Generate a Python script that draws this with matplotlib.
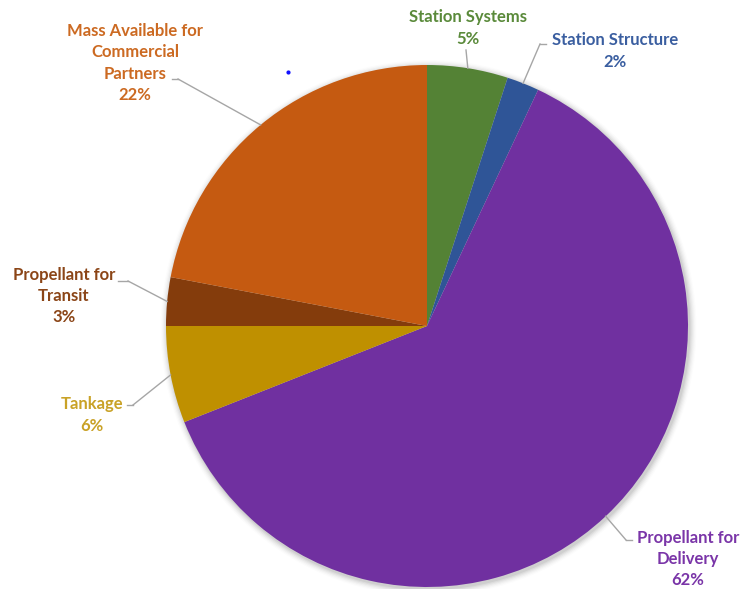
import matplotlib.pyplot as plt
import numpy as np

plt.rcParams['font.family'] = ['Lato', 'DejaVu Sans']

# share of total mass, clockwise from 12 o'clock
labels = ["Station Systems", "Station Structure", "Propellant for\nDelivery",
          "Tankage", "Propellant for\nTransit", "Mass Available for\nCommercial\nPartners"]
values = [5, 2, 62, 6, 3, 22]

colors = ["#548235", "#2F5597", "#7030A0", "#BF9000", "#843C0C", "#C55A11"]
text_colors = ["#5A8A3A", "#3A5EA0", "#7A35A8", "#C9A227", "#8B4517", "#CC6A22"]

W, H = 742, 589
cx, cy, r = 427, H - 326, 261

# label text centre and leader-line elbow (pixel coords, y from top)
label_pos = [(468, 28), (615, 51), (688, 559), (92, 415), (64, 296), (135, 63)]
elbows = [(466, 50), (540, 44), (626, 540), (133, 405), (128, 281), (178, 79)]
# short horizontal stubs next to the text
stubs = [None, (546, 540), (632, 626), (127, 133), (118, 128), (172, 178)]

fig = plt.figure(figsize=(W / 100, H / 100), dpi=100)
ax = fig.add_axes([0, 0, 1, 1])

# soft shadow under the pie
for i, a in enumerate(np.linspace(0.05, 0.01, 6)):
    ax.add_patch(plt.Circle((cx + 1.5, cy - 2), r + 1 + i * 1.2,
                            color="black", alpha=a, lw=0, zorder=0))

wedges, _ = ax.pie(values, colors=colors, startangle=90, counterclock=False,
                   center=(cx, cy), radius=r, frame=True,
                   wedgeprops=dict(linewidth=0, zorder=1))

for w, lab, v, tc, (tx, ty), (ex, ey), s in zip(wedges, labels, values, text_colors,
                                                 label_pos, elbows, stubs):
    ang = np.deg2rad((w.theta1 + w.theta2) / 2)
    px, py = cx + r * np.cos(ang), cy + r * np.sin(ang)
    ax.text(tx, H - ty, f"{lab}\n{v}%", ha="center", va="center", color=tc,
            fontsize=12, fontweight="bold", linespacing=1.42, zorder=3)
    ax.plot([ex, px], [H - ey, py], color="#A6A6A6", lw=1, zorder=2)
    if s:
        ax.plot(s, [H - ey, H - ey], color="#A6A6A6", lw=1, zorder=2)

ax.plot(288, H - 72, "o", color="#1010FF", ms=2, zorder=3)

ax.set_xlim(0, W)
ax.set_ylim(0, H)
ax.set_aspect("equal")
ax.axis("off")

fig.savefig("out.png", dpi=100, facecolor="white")
